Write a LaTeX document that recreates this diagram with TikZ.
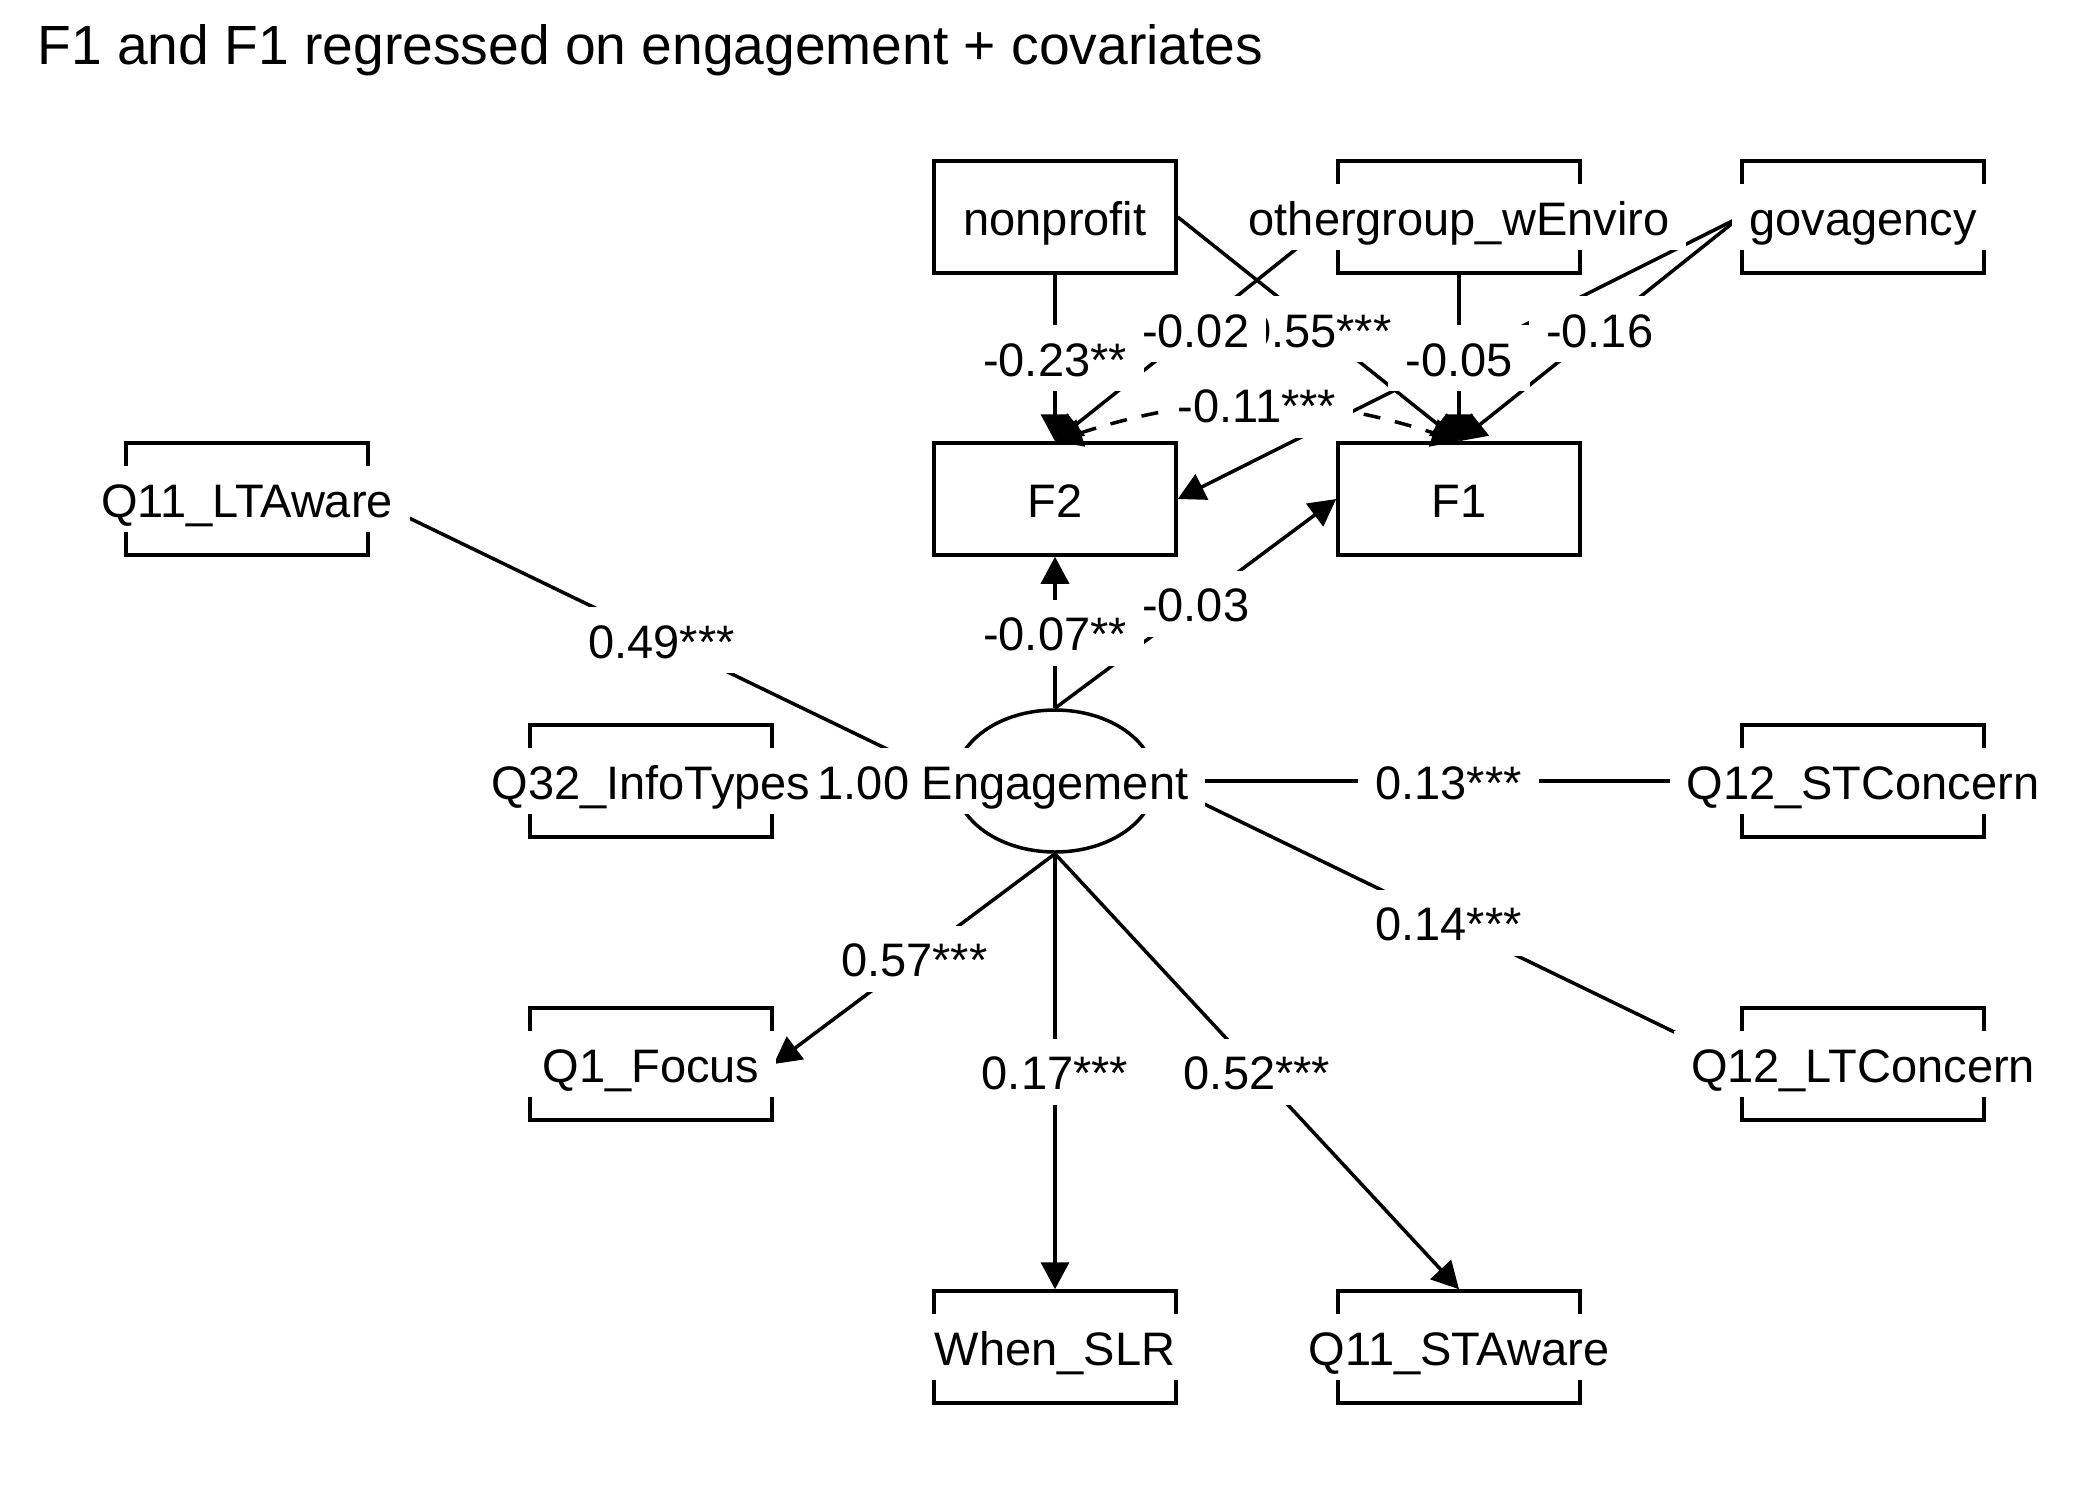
\documentclass[tikz,border=0pt]{standalone}
\usepackage{fontspec}
\setmainfont{Liberation Sans}
\usetikzlibrary{arrows.meta,shapes.geometric}
\begin{document}
\begin{tikzpicture}[x=0.5pt,y=-0.5pt,
  box/.style={draw,line width=1.75pt,minimum width=121pt,minimum height=56pt,inner sep=0pt},
  lat/.style={draw,ellipse,line width=1.75pt,minimum width=100pt,minimum height=71pt,inner sep=0pt},
  txt/.style={fill=white,inner xsep=8.5pt,inner ysep=0pt,text height=25.5pt,text depth=7.5pt,font=\fontsize{23.5}{28}\selectfont},
  conn/.style={line width=1.75pt,-{Triangle[length=13.5pt,width=14pt]}},
  cov/.style={line width=1.75pt,dash pattern=on 8.5pt off 7.5pt,{Triangle[length=13.5pt,width=14pt]}-{Triangle[length=13.5pt,width=14pt]}}
]
\useasboundingbox (0,0) rectangle (2100,1500);
\node[anchor=base west,inner sep=0pt,font=\fontsize{27.6}{33}\selectfont] (title) at (37,64) {F1 and F1 regressed on engagement + covariates};
% boxes
\node[box] (np)   at (1055,217) {};
\node[box] (og)   at (1459,217) {};
\node[box] (gov)  at (1863,217) {};
\node[box] (F2)   at (1055,499) {};
\node[box] (F1)   at (1459,499) {};
\node[box] (ltaw) at (247,499) {};
\node[box] (info) at (651,781) {};
\node[lat] (eng)  at (1055,781) {};
\node[box] (stc)  at (1863,781) {};
\node[box] (focus) at (651,1064) {};
\node[box] (ltc)  at (1863,1064) {};
\node[box] (slr)  at (1055,1347) {};
\node[box] (staw) at (1459,1347) {};
% edges
\draw[conn] (np.south) -- coordinate[pos=.5] (l1) (F2.north);
\draw[conn] (np.east) -- coordinate[pos=.5] (l2) (F1.north);
\draw[conn] (og.west) -- coordinate[pos=.5] (l3) (F2.north);
\draw[conn] (og.south) -- coordinate[pos=.5] (l4) (F1.north);
\draw[conn] (gov.west) -- (F2.east);
\draw[conn] (gov.west) -- coordinate[pos=.5] (l6) (F1.north);
\draw[cov] (F2.north) to[bend left=18] coordinate[pos=.5] (l7) (F1.north);
\draw[conn] (eng.north) -- coordinate[pos=.5] (l8) (F2.south);
\draw[conn] (eng.north) -- coordinate[pos=.5] (l9) (F1.west);
\draw[conn] (eng.west) -- coordinate[pos=.5] (l10) (ltaw.east);
\draw[conn] (eng.west) -- coordinate[pos=.5] (l11) (info.east);
\draw[conn] (eng.east) -- coordinate[pos=.5] (l12) (stc.west);
\draw[conn] (eng.east) -- coordinate[pos=.5] (l13) (ltc.west);
\draw[conn] (eng.south) -- coordinate[pos=.5] (l14) (focus.east);
\draw[conn] (eng.south) -- coordinate[pos=.5] (l15) (slr.north);
\draw[conn] (eng.south) -- coordinate[pos=.5] (l16) (staw.north);
% edge labels
\node[txt] (t1) at (l1) {-0.23**};
\node[txt] (t2) at (l2) {0.55***};
\node[txt] (t3) at (l3) {-0.02};
\node[txt] (t6) at (l6) {-0.16};
\node[txt] (t4) at (l4) {-0.05};
\node[txt] (t7) at (l7) {-0.11***};
\node[txt] (t8) at (l8) {-0.07**};
\node[txt] (t9) at (l9) {-0.03};
\node[txt] (t10) at (l10) {0.49***};
\node[txt] (t12) at (l12) {0.13***};
\node[txt] (t13) at (l13) {0.14***};
\node[txt] (t14) at (l14) {0.57***};
\node[txt] (t15) at (l15) {0.17***};
\node[txt] (t16) at (l16) {0.52***};
% node texts
\node[txt] (np-t)   at (np)   {nonprofit};
\node[txt] (og-t)   at (og)   {othergroup\_wEnviro};
\node[txt] (gov-t)  at (gov)  {govagency};
\node[txt] (F2-t)   at (F2)   {F2};
\node[txt] (F1-t)   at (F1)   {F1};
\node[txt] (ltaw-t) at (ltaw) {Q11\_LTAware};
\node[txt] (info-t) at (info) {Q32\_InfoTypes};
\node[txt] (eng-t)  at (eng)  {Engagement};
\node[txt] (stc-t)  at (stc)  {Q12\_STConcern};
\node[txt] (focus-t) at (focus) {Q1\_Focus};
\node[txt] (ltc-t)  at (ltc)  {Q12\_LTConcern};
\node[txt] (slr-t)  at (slr)  {When\_SLR};
\node[txt] (staw-t) at (staw) {Q11\_STAware};
% label squeezed between two node texts
\node[txt,inner xsep=3pt] (t11) at (l11) {1.00};
\end{tikzpicture}
\end{document}
